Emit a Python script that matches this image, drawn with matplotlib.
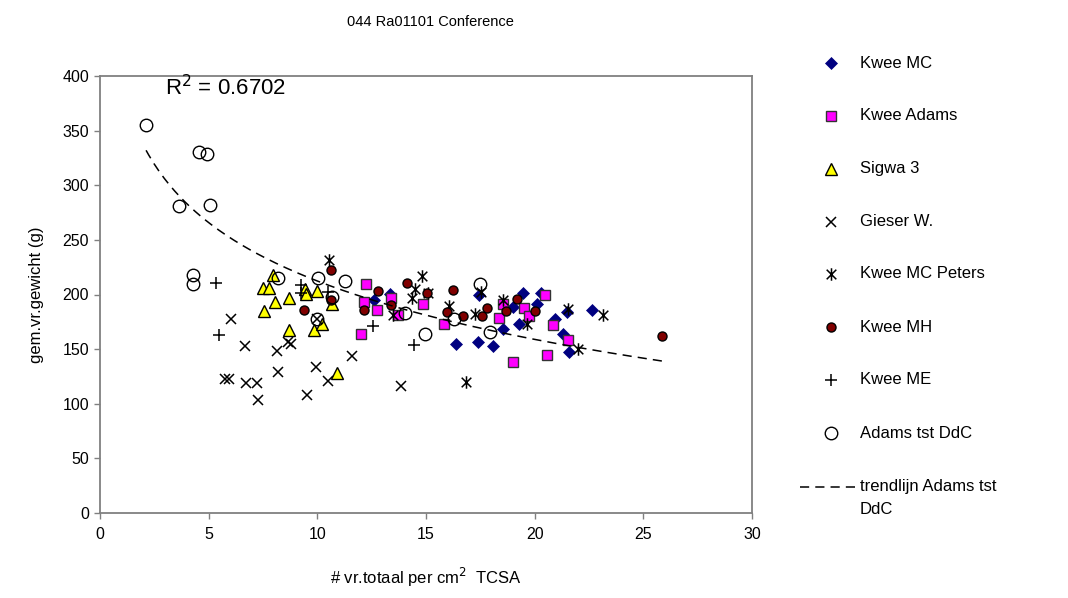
import numpy as np
import matplotlib
matplotlib.use("Agg")
import matplotlib.pyplot as plt
from matplotlib.path import Path
from matplotlib.lines import Line2D

plt.rcParams['font.family'] = ['Liberation Sans', 'DejaVu Sans']

title = "044 Ra01101 Conference"
xlabel = "# vr.totaal per cm$^2$  TCSA"
ylabel = "gem.vr.gewicht (g)"
xticks = [0, 5, 10, 15, 20, 25, 30]
yticks = [0, 50, 100, 150, 200, 250, 300, 350, 400]

kwee_mc_x = [16.38, 17.41, 17.44, 18.10, 18.56, 19.02, 19.30, 19.45, 20.10, 20.28, 20.94, 21.32, 21.50, 21.60, 22.66, 12.61, 13.35]
kwee_mc_y = [155.1, 156.6, 199.3, 153.1, 168.2, 188.6, 172.8, 201.6, 191.0, 201.8, 178.0, 163.6, 184.0, 147.4, 185.4, 194.7, 200.8]

kwee_adams_x = [12.24, 12.16, 12.00, 12.73, 13.39, 13.71, 14.85, 15.84, 18.38, 18.53, 19.02, 19.51, 19.76, 20.48, 20.56, 20.83, 21.55]
kwee_adams_y = [209.3, 193.1, 163.6, 186.2, 197.2, 181.6, 191.0, 173.4, 178.2, 191.7, 137.8, 188.0, 180.4, 199.6, 144.4, 171.8, 158.8]

sigwa_x = [7.98, 7.52, 7.79, 8.04, 7.53, 8.70, 9.45, 9.47, 10.00, 8.70, 9.83, 10.20, 10.66, 10.89]
sigwa_y = [217.6, 206.3, 206.3, 193.1, 184.9, 197.2, 205.4, 200.8, 202.9, 167.3, 167.3, 173.4, 191.0, 128.2]

gieser_x = [5.75, 5.95, 6.02, 6.67, 6.70, 7.24, 7.26, 8.13, 8.21, 8.67, 8.78, 9.51, 9.93, 9.97, 10.51, 11.58, 13.85]
gieser_y = [122.2, 122.2, 177.3, 152.9, 119.1, 119.1, 103.3, 148.4, 129.2, 156.6, 154.5, 107.9, 133.5, 178.0, 120.9, 143.5, 116.1]

peters_x = [10.55, 14.80, 14.50, 15.11, 14.34, 13.50, 16.07, 16.84, 17.26, 17.52, 18.53, 19.64, 21.55, 22.01, 23.13]
peters_y = [231.2, 216.6, 205.4, 201.4, 196.8, 181.0, 189.2, 119.5, 182.5, 202.3, 194.7, 172.8, 187.1, 150.5, 181.0]

kwee_mh_x = [10.62, 10.62, 9.40, 12.16, 12.81, 13.39, 14.11, 15.03, 15.98, 16.26, 16.72, 17.57, 17.80, 18.68, 19.20, 20.02, 25.88]
kwee_mh_y = [222.1, 194.7, 186.2, 186.2, 202.9, 190.1, 210.9, 201.4, 183.7, 204.4, 180.1, 180.1, 188.0, 184.6, 196.2, 184.9, 162.1]

kwee_me_x = [5.34, 5.48, 9.24, 9.24, 10.51, 12.58, 14.46]
kwee_me_y = [210.9, 162.7, 208.4, 201.4, 202.3, 170.9, 153.6]

adams_x = [2.12, 3.62, 4.57, 4.91, 5.08, 4.29, 4.29, 8.18, 10.05, 9.97, 10.69, 11.27, 14.04, 14.96, 16.29, 17.49, 17.95]
adams_y = [355, 281, 330, 329, 282, 218, 210, 215, 215, 178, 198, 212, 183, 164, 178, 210, 166]

r2_text = "R$^2$ = 0.6702"

# asterisk marker: x with vertical line
ast = Path([(-1, -1), (1, 1), (-1, 1), (1, -1), (0, -1.3), (0, 1.3)],
           [Path.MOVETO, Path.LINETO, Path.MOVETO, Path.LINETO, Path.MOVETO, Path.LINETO])

styles = [
    ("Kwee MC", kwee_mc_x, kwee_mc_y, dict(marker='D', ms=6.5, mfc='#000080', mec='#000080', mew=0.5)),
    ("Kwee Adams", kwee_adams_x, kwee_adams_y, dict(marker='s', ms=6.5, mfc='#FF00FF', mec='#333333', mew=1.0)),
    ("Sigwa 3", sigwa_x, sigwa_y, dict(marker='^', ms=8, mfc='#FFFF00', mec='black', mew=1.0)),
    ("Gieser W.", gieser_x, gieser_y, dict(marker='x', ms=7.5, mec='black', mew=1.1)),
    ("Kwee MC Peters", peters_x, peters_y, dict(marker=ast, ms=9, mec='black', mfc='none', mew=1.1)),
    ("Kwee MH", kwee_mh_x, kwee_mh_y, dict(marker='o', ms=6.5, mfc='#800000', mec='black', mew=1.0)),
    ("Kwee ME", kwee_me_x, kwee_me_y, dict(marker='+', ms=8.5, mec='black', mew=1.1)),
    ("Adams tst DdC", adams_x, adams_y, dict(marker='o', ms=9, mfc='none', mec='black', mew=1.0)),
]

fig = plt.figure(figsize=(10.68, 5.98), dpi=100)
W, H = 1068, 598
ax = fig.add_axes([100 / W, 1 - 513 / H, (752 - 100) / W, (513 - 76) / H])

for name, xs, ys, st in styles:
    ax.plot(xs, ys, linestyle='none', **st)

# logarithmic trendline of Adams tst DdC
lx = np.log(np.array(adams_x))
b, a = np.polyfit(lx, np.array(adams_y), 1)
all_x = kwee_mc_x + kwee_adams_x + sigwa_x + gieser_x + peters_x + kwee_mh_x + kwee_me_x + adams_x
tx = np.linspace(min(adams_x), max(all_x), 200)
ax.plot(tx, a + b * np.log(tx), color='black', linestyle=(0, (6, 4)), lw=1.1)

ax.text(3.0, 389, r2_text, fontsize=16, va='center', ha='left')

ax.set_xlim(0, 30)
ax.set_ylim(0, 400)
ax.set_xticks(xticks)
ax.set_yticks(yticks)
ax.tick_params(direction='out', length=4, width=1, color='#808080', labelsize=11.5)
ax.tick_params(axis='x', pad=6)
ax.tick_params(axis='y', pad=4)
for s in ax.spines.values():
    s.set_color('#808080')
    s.set_linewidth(1.3)
ax.set_xlabel(xlabel, fontsize=12, labelpad=17)
ax.set_ylabel(ylabel, fontsize=12, labelpad=13)
fig.text(430 / W, 1 - 22 / H, title, ha='center', va='center', fontsize=10.5)

# legend (manual)
leg_y = [63, 116, 169, 222, 274, 327, 380, 433]
for (name, xs, ys, st), py in zip(styles, leg_y):
    fig.add_artist(Line2D([831 / W], [1 - py / H], linestyle='none', transform=fig.transFigure, **st))
    fig.text(860 / W, 1 - py / H, name, ha='left', va='center', fontsize=12)
fig.add_artist(Line2D([800 / W, 856 / W], [1 - 487 / H, 1 - 487 / H], color='black',
                      linestyle=(0, (6, 4)), lw=1.1, transform=fig.transFigure))
fig.text(860 / W, 1 - 487 / H, "trendlijn Adams tst", ha='left', va='center', fontsize=12)
fig.text(860 / W, 1 - 510 / H, "DdC", ha='left', va='center', fontsize=12)

fig.savefig("out.png", dpi=100)
